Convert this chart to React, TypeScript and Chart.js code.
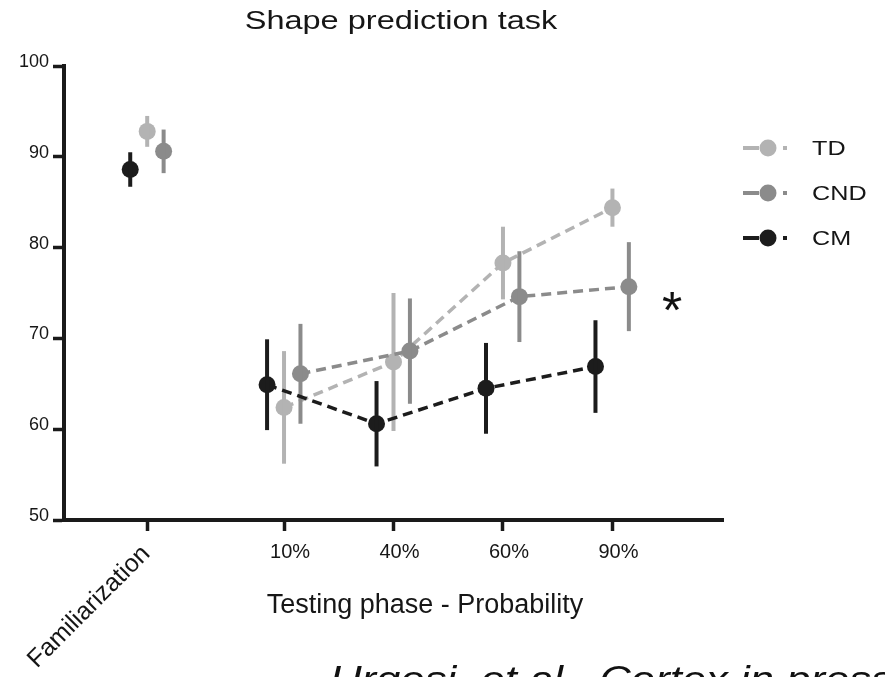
import React, { useEffect, useRef } from 'react';
import { Chart, registerables } from 'chart.js';

Chart.register(...registerables);

// ---- data ----
const categories = ['Familiarization', '10%', '40%', '60%', '90%'];
const categoryX = [0, 1.25, 2.25, 3.25, 4.25];
const yTickValues = [50, 60, 70, 80, 90, 100];

const tdMean = [92.8, 62.4, 67.4, 78.3, 84.4];
const tdErr = [1.7, 6.2, 7.6, 4.0, 2.1];
const cndMean = [90.6, 66.1, 68.6, 74.6, 75.7];
const cndErr = [2.4, 5.5, 5.8, 5.0, 4.9];
const cmMean = [88.6, 64.9, 60.6, 64.5, 66.9];
const cmErr = [1.9, 5.0, 4.7, 5.0, 5.1];

const titleText = 'Shape prediction task';
const xTitleText = 'Testing phase - Probability';
const citationText = 'Urgesi, et al., Cortex in press';

const FONT = 'Liberation Sans, Arial, sans-serif';
const AXIS = '#1a1a1a';
const C_TD = '#b3b3b3';
const C_CND = '#8b8b8b';
const C_CM = '#1c1c1c';

const seriesDefs = [
  { label: 'CM', mean: cmMean, err: cmErr, color: C_CM, offset: -0.155 },
  { label: 'CND', mean: cndMean, err: cndErr, color: C_CND, offset: 0.15 },
  { label: 'TD', mean: tdMean, err: tdErr, color: C_TD, offset: 0 },
];
const legendOrder = [
  { label: 'TD', color: C_TD },
  { label: 'CND', color: C_CND },
  { label: 'CM', color: C_CM },
];

function drawStretched(ctx: CanvasRenderingContext2D, text: string, x: number, y: number, font: string, sx: number, align: CanvasTextAlign, baseline: CanvasTextBaseline = 'alphabetic', color = '#111') {
  ctx.save();
  ctx.font = font;
  ctx.fillStyle = color;
  ctx.textAlign = align;
  ctx.textBaseline = baseline;
  ctx.translate(x, y);
  ctx.scale(sx, 1);
  ctx.fillText(text, 0, 0);
  ctx.restore();
}

const errorBarPlugin = {
  id: 'errorBars',
  afterDatasetDraw(chart: any, args: any) {
    const ds = chart.data.datasets[args.index];
    const meta = args.meta;
    const ys = chart.scales.y;
    const ctx = chart.ctx;
    ctx.save();
    ctx.strokeStyle = ds.borderColor;
    ctx.lineWidth = 4;
    ctx.lineCap = 'butt';
    meta.data.forEach((pt: any, i: number) => {
      const raw = ds.data[i];
      const e = ds.errors[i];
      ctx.beginPath();
      ctx.moveTo(pt.x, ys.getPixelForValue(raw.y + e));
      ctx.lineTo(pt.x, ys.getPixelForValue(raw.y - e));
      ctx.stroke();
    });
    ctx.restore();
  },
};

const decorPlugin = {
  id: 'decor',
  afterDraw(chart: any) {
    const ctx = chart.ctx as CanvasRenderingContext2D;
    const area = chart.chartArea;
    const xs = chart.scales.x;
    const ys = chart.scales.y;

    // title
    drawStretched(ctx, titleText, 401, 29, `26px ${FONT}`, 1.25, 'center', 'alphabetic', '#161616');
    // x axis title
    drawStretched(ctx, xTitleText, 425, 613, `27px ${FONT}`, 1.0, 'center', 'alphabetic', '#161616');
    // rotated Familiarization label
    ctx.save();
    ctx.translate(xs.getPixelForValue(categoryX[0]) - 58, area.bottom + 87);
    ctx.rotate(-Math.PI / 4);
    ctx.font = `25px ${FONT}`;
    ctx.fillStyle = '#161616';
    ctx.textAlign = 'center';
    ctx.textBaseline = 'middle';
    ctx.fillText(categories[0], 0, 0);
    ctx.restore();

    // legend
    legendOrder.forEach((item, i) => {
      const y = area.top + 82 + i * 45;
      const x0 = area.right + 20;
      ctx.save();
      ctx.strokeStyle = item.color;
      ctx.fillStyle = item.color;
      ctx.lineWidth = 4;
      ctx.beginPath();
      ctx.moveTo(x0, y);
      ctx.lineTo(x0 + 16, y);
      ctx.stroke();
      ctx.beginPath();
      ctx.moveTo(x0 + 40, y);
      ctx.lineTo(x0 + 44, y);
      ctx.stroke();
      ctx.beginPath();
      ctx.arc(x0 + 25, y, 8.5, 0, Math.PI * 2);
      ctx.fill();
      ctx.restore();
      drawStretched(ctx, item.label, area.right + 89, y + 1, `21px ${FONT}`, 1.2, 'left', 'middle', '#161616');
    });

    // significance asterisk
    drawStretched(ctx, '*', xs.getPixelForValue(4.795), ys.getPixelForValue(74) + 26, `52px ${FONT}`, 1.0, 'center', 'alphabetic', '#111');

    // citation
    drawStretched(ctx, citationText, 330, 692, `italic 37px ${FONT}`, 1.18, 'left', 'alphabetic', '#111');
  },
};

export default function App() {
  const ref = useRef<HTMLCanvasElement | null>(null);
  useEffect(() => {
    document.body.style.margin = '0';
    Chart.defaults.font.family = FONT;
    const datasets = seriesDefs.map((s) => ({
      label: s.label,
      data: s.mean.map((m, i) => ({ x: categoryX[i] + s.offset, y: m })),
      errors: s.err,
      borderColor: s.color,
      backgroundColor: s.color,
      borderWidth: 3.5,
      borderDash: [10, 6],
      pointRadius: 8.5,
      pointHoverRadius: 8.5,
      pointBorderWidth: 0,
      pointBackgroundColor: s.color,
      showLine: true,
      fill: false,
      tension: 0,
      segment: {
        borderColor: (c: any) => (c.p0DataIndex === 0 ? 'rgba(0,0,0,0)' : undefined),
      },
    }));
    const chart = new Chart(ref.current as HTMLCanvasElement, {
      type: 'line',
      data: { datasets } as any,
      options: {
        animation: false,
        responsive: false,
        devicePixelRatio: 1,
        layout: { padding: { top: 66, right: 162, left: 0, bottom: 0 } },
        plugins: {
          legend: { display: false },
          title: { display: false },
          tooltip: { enabled: false },
        },
        scales: {
          x: {
            type: 'linear',
            min: -0.76,
            max: 5.26,
            afterBuildTicks: (scale: any) => {
              scale.ticks = categoryX.map((v) => ({ value: v }));
            },
            afterFit: (scale: any) => {
              scale.height = 157;
            },
            grid: { display: true, drawOnChartArea: false, drawTicks: true, tickLength: 11, tickWidth: 3.5, tickColor: AXIS },
            border: { display: true, color: AXIS, width: 4 },
            ticks: {
              autoSkip: false,
              maxRotation: 0,
              minRotation: 0,
              padding: 9,
              labelOffset: 6,
              color: '#161616',
              font: { family: FONT, size: 20 },
              callback: (_v: any, i: number) => (i === 0 ? '' : categories[i]),
            },
          },
          y: {
            type: 'linear',
            min: 50,
            max: 100,
            afterBuildTicks: (scale: any) => {
              scale.ticks = yTickValues.map((v) => ({ value: v }));
            },
            afterFit: (scale: any) => {
              scale.width = 64;
            },
            grid: { display: true, drawOnChartArea: false, drawTicks: true, tickLength: 11, tickWidth: 3.5, tickColor: AXIS },
            border: { display: true, color: AXIS, width: 4 },
            ticks: {
              padding: 4,
              labelOffset: -4,
              color: '#161616',
              font: { family: FONT, size: 18 },
            },
          },
        },
      } as any,
      plugins: [errorBarPlugin, decorPlugin],
    });
    return () => chart.destroy();
  }, []);
  return (
    <div style={{ position: 'absolute', left: 0, top: 0, width: 885, height: 677, background: '#ffffff', overflow: 'hidden' }}>
      <canvas ref={ref} width={885} height={677} style={{ display: 'block' }} />
    </div>
  );
}
